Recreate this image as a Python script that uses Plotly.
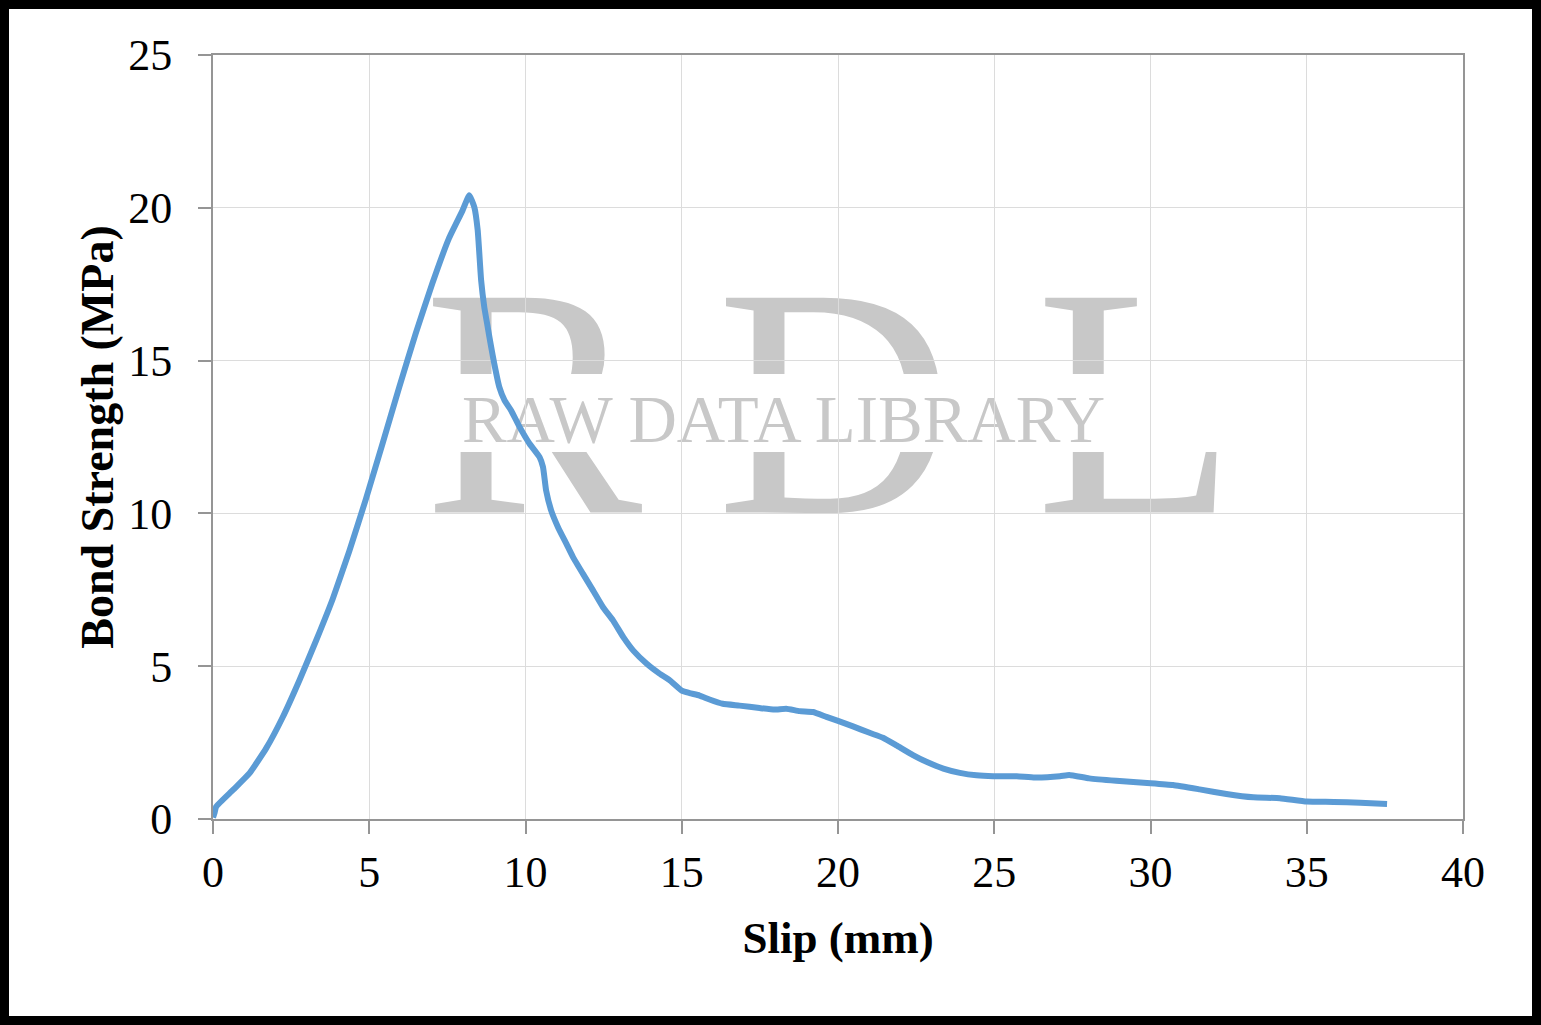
import plotly.graph_objects as go

# Data
slip_mm = [0.0, 0.05, 0.1, 0.64, 1.17, 1.70, 2.23, 2.77, 3.30, 3.83, 4.36, 4.89, 5.43, 5.96, 6.49,
           7.02, 7.55, 7.98, 8.20, 8.36, 8.47, 8.58, 8.68, 8.79, 8.90, 9.0, 9.16, 9.33, 9.54, 9.81,
           10.13, 10.45, 10.56, 10.66, 10.82, 11.04, 11.31, 11.52, 11.84, 12.16, 12.48, 12.8, 13.13,
           13.45, 13.88, 14.3, 14.6, 15.0, 15.25, 15.57, 15.89, 16.31, 16.85, 17.49, 17.97, 18.34,
           18.77, 19.2, 19.63, 20.0, 20.48, 21.01, 21.44, 21.87, 22.4, 22.83, 23.37, 23.9, 24.43,
           24.97, 25.72, 26.3, 27.1, 27.4, 28.04, 28.9, 30.0, 30.72, 31.57, 32.43, 33.29, 34.14,
           35.0, 35.86, 36.71, 37.57]
bond_strength_mpa = [0.05, 0.2, 0.4, 0.95, 1.5, 2.31, 3.33, 4.55, 5.84, 7.2, 8.76, 10.46, 12.3, 14.13,
                     15.9, 17.53, 19.0, 19.9, 20.41, 20.03, 19.27, 17.63, 16.76, 16.1, 15.45, 14.9,
                     14.14, 13.7, 13.37, 12.83, 12.28, 11.84, 11.52, 10.75, 10.1, 9.55, 9.0, 8.57,
                     8.02, 7.48, 6.93, 6.5, 5.95, 5.51, 5.08, 4.75, 4.55, 4.2, 4.12, 4.04, 3.91, 3.77,
                     3.71, 3.63, 3.58, 3.61, 3.53, 3.5, 3.34, 3.21, 3.03, 2.82, 2.66, 2.41, 2.09,
                     1.87, 1.65, 1.51, 1.43, 1.4, 1.4, 1.36, 1.4, 1.44, 1.33, 1.25, 1.17, 1.11, 0.97,
                     0.82, 0.71, 0.68, 0.57, 0.56, 0.53, 0.49]

x_ticks = [0, 5, 10, 15, 20, 25, 30, 35, 40]
y_ticks = [0, 5, 10, 15, 20, 25]

W, H = 1541, 1025
ML, MR, MT, MB = 213, 78, 55, 206
PW, PH = W - ML - MR, H - MT - MB

def px_x(p):
    return (p - ML) / PW

def px_y(p):
    return (H - MB - p) / PH

SERIF = "Liberation Serif, Times New Roman, serif"
AXIS_GRAY = "#959595"
GRID_GRAY = "#dcdcdc"
WM_GRAY = "#c8c8c8"

fig = go.Figure()
fig.add_trace(go.Scatter(
    x=slip_mm, y=bond_strength_mpa, mode="lines",
    line=dict(color="#5b9bd5", width=6, shape="spline", smoothing=0.4),
    showlegend=False, hoverinfo="x+y",
))


def label_box(text, cx, cy, size):
    return dict(type="rect", xref="paper", yref="paper", layer="below",
                x0=px_x(cx - 150), x1=px_x(cx + 150), y0=px_y(cy + 40), y1=px_y(cy - 40),
                line=dict(width=0), fillcolor="rgba(0,0,0,0)",
                label=dict(text=text, textposition="middle center", padding=0,
                           font=dict(family=SERIF, size=size, color=WM_GRAY)))


shapes = [
    # big watermark letters
    label_box("R", 533, 366, 328),
    label_box("D", 835, 366, 328),
    label_box("L", 1136, 366, 328),
    # white band
    dict(type="rect", xref="paper", yref="paper", layer="below",
         x0=px_x(420), x1=px_x(1240), y0=px_y(452), y1=px_y(374),
         line=dict(width=0), fillcolor="white"),
    # small watermark text
    label_box("RAW DATA LIBRARY", 783.5, 411.5, 67),
    # black frame
    dict(type="rect", xref="paper", yref="paper", layer="above",
         x0=px_x(4.5), x1=px_x(W - 4.5), y0=px_y(H - 4.5), y1=px_y(4.5),
         line=dict(width=9, color="black"), fillcolor="rgba(0,0,0,0)"),
]

fig.update_layout(
    width=W, height=H,
    margin=dict(l=ML, r=MR, t=MT, b=MB, pad=0),
    paper_bgcolor="white", plot_bgcolor="white",
    shapes=shapes,
    font=dict(family=SERIF, color="black"),
    xaxis=dict(
        range=[0, 40], tickvals=x_ticks, ticktext=[str(v) for v in x_ticks],
        showgrid=True, gridcolor=GRID_GRAY, gridwidth=1, zeroline=False,
        showline=True, linecolor=AXIS_GRAY, linewidth=2, mirror=True,
        ticks="outside", ticklen=13, tickwidth=2, tickcolor=AXIS_GRAY,
        tickfont=dict(family=SERIF, size=44, color="black"),
        ticklabelstandoff=0,
        title=dict(text="Slip (mm)", font=dict(family=SERIF, size=45, color="black", weight="bold"),
                   standoff=26),
    ),
    yaxis=dict(
        range=[0, 25], tickvals=y_ticks, ticktext=[str(v) for v in y_ticks],
        showgrid=True, gridcolor=GRID_GRAY, gridwidth=1, zeroline=False,
        showline=True, linecolor=AXIS_GRAY, linewidth=2, mirror=True,
        ticks="outside", ticklen=13, tickwidth=2, tickcolor=AXIS_GRAY,
        tickfont=dict(family=SERIF, size=44, color="black"),
        ticklabelstandoff=17,
        title=dict(text="Bond Strength (MPa)", font=dict(family=SERIF, size=46, color="black", weight="bold"),
                   standoff=0),
    ),
)

fig.write_html("out.html", config={"displayModeBar": False},
               post_script="document.body.style.margin='0';")
